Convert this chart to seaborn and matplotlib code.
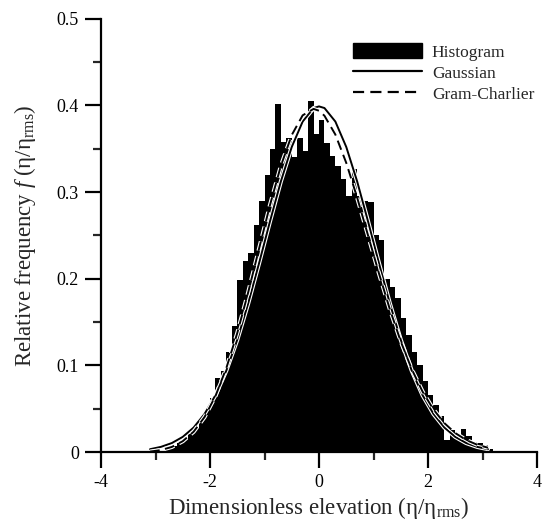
import numpy as np
import pandas as pd
import matplotlib
matplotlib.use("Agg")
import matplotlib.pyplot as plt
import matplotlib.patheffects as pe
from matplotlib.patches import Patch
from matplotlib.lines import Line2D
from matplotlib.ticker import MultipleLocator
import seaborn as sns

# ---- data ----
bin_centers = [-2.75, -2.65, -2.55, -2.45, -2.35, -2.25, -2.15, -2.05, -1.95, -1.85,
               -1.75, -1.65, -1.55, -1.45, -1.35, -1.25, -1.15, -1.05, -0.95, -0.85,
               -0.75, -0.65, -0.55, -0.45, -0.35, -0.25, -0.15, -0.05, 0.05, 0.15,
               0.25, 0.35, 0.45, 0.55, 0.65, 0.75, 0.85, 0.95, 1.05, 1.15,
               1.25, 1.35, 1.45, 1.55, 1.65, 1.75, 1.85, 1.95, 2.05, 2.15,
               2.25, 2.35, 2.45, 2.55, 2.65, 2.75, 2.85, 2.95, 3.05, 3.15]
hist_heights = [0.004, 0.007, 0.011, 0.015, 0.021, 0.028, 0.038, 0.050, 0.062, 0.085,
                0.094, 0.115, 0.145, 0.198, 0.220, 0.230, 0.262, 0.290, 0.320, 0.350,
                0.402, 0.358, 0.362, 0.340, 0.362, 0.348, 0.405, 0.367, 0.383, 0.357,
                0.342, 0.330, 0.315, 0.296, 0.327, 0.295, 0.290, 0.289, 0.250, 0.245,
                0.200, 0.190, 0.178, 0.155, 0.135, 0.115, 0.100, 0.082, 0.066, 0.054,
                0.042, 0.014, 0.025, 0.019, 0.027, 0.018, 0.012, 0.010, 0.008, 0.004]

curve_x = [-3.1, -2.9, -2.7, -2.5, -2.3, -2.1, -1.9, -1.7, -1.5, -1.3, -1.1, -0.9,
           -0.7, -0.5, -0.3, -0.1, 0.0, 0.1, 0.3, 0.5, 0.7, 0.9, 1.1, 1.3, 1.5,
           1.7, 1.9, 2.1, 2.3, 2.5, 2.7, 2.9, 3.1]
gaussian_y = [0.0033, 0.0060, 0.0104, 0.0175, 0.0283, 0.0440, 0.0656, 0.0941, 0.1295,
              0.1714, 0.2179, 0.2661, 0.3123, 0.3521, 0.3814, 0.3970, 0.3989, 0.3970,
              0.3814, 0.3521, 0.3123, 0.2661, 0.2179, 0.1714, 0.1295, 0.0941, 0.0656,
              0.0440, 0.0283, 0.0175, 0.0104, 0.0060, 0.0033]
gram_charlier_y = [0.0005, 0.0023, 0.0059, 0.0125, 0.0235, 0.0404, 0.0646, 0.0970,
                   0.1373, 0.1842, 0.2347, 0.2849, 0.3302, 0.3659, 0.3886, 0.3960,
                   0.3939, 0.3881, 0.3664, 0.3337, 0.2936, 0.2499, 0.2061, 0.1647,
                   0.1276, 0.0958, 0.0697, 0.0491, 0.0334, 0.0219, 0.0139, 0.0085,
                   0.0050]

x_ticks = [-4, -2, 0, 2, 4]
y_ticks = [0, 0.1, 0.2, 0.3, 0.4, 0.5]
y_tick_labels = ["0", "0.1", "0.2", "0.3", "0.4", "0.5"]
legend_labels = ["Histogram", "Gaussian", "Gram-Charlier"]

# ---- style ----
sns.set_style("ticks")
plt.rcParams["font.family"] = ["Liberation Serif", "DejaVu Serif"]
plt.rcParams["mathtext.fontset"] = "custom"
plt.rcParams["mathtext.rm"] = "Liberation Serif"
plt.rcParams["mathtext.it"] = "Liberation Serif:italic"
plt.rcParams["axes.unicode_minus"] = False

fig = plt.figure(figsize=(5.43, 5.22), dpi=100)
ax = fig.add_axes([0.186, 0.134, 0.803, 0.830])

bin_width = 0.1
edges = [round(c - bin_width / 2, 3) for c in bin_centers] + [round(bin_centers[-1] + bin_width / 2, 3)]
df_hist = pd.DataFrame({"x": bin_centers, "w": hist_heights})
sns.histplot(data=df_hist, x="x", weights="w", bins=edges, stat="count",
             color="black", alpha=1, edgecolor="none", linewidth=0, ax=ax)

dash = (0, (5, 2.8))
halo = [pe.Stroke(linewidth=3.0, foreground="white"), pe.Normal()]
df_curves = pd.DataFrame({"x": curve_x, "g": gaussian_y, "gc": gram_charlier_y})
sns.lineplot(data=df_curves, x="x", y="g", color="black", linewidth=1.4,
             ax=ax, path_effects=halo)
sns.lineplot(data=df_curves, x="x", y="gc", color="black", linewidth=1.4,
             linestyle=dash, ax=ax, path_effects=halo)

ax.set_xlim(-4, 4)
ax.set_ylim(0, 0.5)
ax.set_xticks(x_ticks)
ax.set_yticks(y_ticks)
ax.set_yticklabels(y_tick_labels)
ax.xaxis.set_minor_locator(MultipleLocator(1))
ax.yaxis.set_minor_locator(MultipleLocator(0.05))
ax.tick_params(axis="both", which="major", direction="out", length=11.5, width=1.6,
               labelsize=13, pad=4.5, colors="black")
ax.tick_params(axis="both", which="minor", direction="out", length=6, width=1.6)
for s in ["top", "right"]:
    ax.spines[s].set_visible(False)
for s in ["left", "bottom"]:
    ax.spines[s].set_linewidth(1.6)
    ax.spines[s].set_color("black")
ax.set_xlabel("Dimensionless elevation (η/η$_{\\mathrm{rms}}$)", fontsize=16.5, labelpad=3)
ax.set_ylabel("Relative frequency $\\mathit{f}$ (η/η$_{\\mathrm{rms}}$)", fontsize=16.5, labelpad=13)

handles = [Patch(facecolor="black", edgecolor="black"),
           Line2D([], [], color="black", linewidth=1.6),
           Line2D([], [], color="black", linewidth=1.6, linestyle=dash)]
ax.legend(handles, legend_labels, loc="upper left", bbox_to_anchor=(0.65, 0.918),
          bbox_transform=fig.transFigure, frameon=False, fontsize=12.5,
          handlelength=4.0, handleheight=1.0, handletextpad=0.55,
          labelspacing=0.2, borderpad=0, borderaxespad=0)

fig.savefig("out.png", dpi=100, facecolor="white")
